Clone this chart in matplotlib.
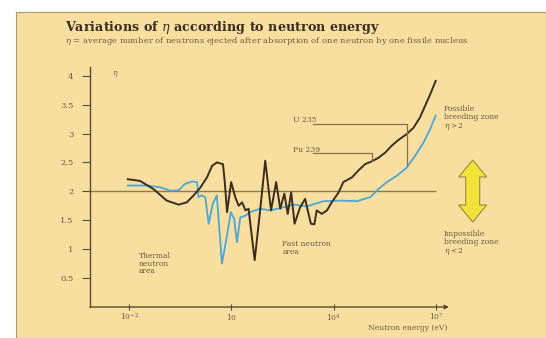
'''
    Variations of eta according to neutron energy
'''
import numpy as np
import matplotlib
matplotlib.use('Agg')
import matplotlib.pyplot as plt
from matplotlib.patches import Rectangle, Polygon

# log10 of neutron energy (eV) and eta
u235_logE = [-2.04, -1.68, -1.29, -0.90, -0.55, -0.31, -0.11, 0.08, 0.28, 0.43,
             0.57, 0.75, 0.80, 0.87, 0.99, 1.11, 1.21, 1.31, 1.41, 1.50,
             1.68, 1.84, 1.99, 2.16, 2.31, 2.43, 2.55, 2.65, 2.75, 2.85,
             3.01, 3.16, 3.26, 3.33, 3.43, 3.50, 3.65, 3.80, 3.94, 4.14,
             4.28, 4.53, 4.72, 4.92, 5.12, 5.31, 5.51, 5.70, 5.90, 6.14,
             6.34, 6.53, 6.68, 6.83, 6.99]
u235_eta = [2.21, 2.18, 2.04, 1.84, 1.77, 1.81, 1.93, 2.06, 2.24, 2.44,
            2.50, 2.47, 2.18, 1.64, 2.16, 1.90, 1.75, 1.81, 1.67, 1.70,
            0.81, 1.67, 2.53, 1.67, 2.16, 1.70, 1.96, 1.61, 1.98, 1.44,
            1.72, 1.87, 1.61, 1.44, 1.43, 1.67, 1.61, 1.67, 1.81, 1.98,
            2.16, 2.24, 2.36, 2.47, 2.52, 2.58, 2.67, 2.79, 2.89, 2.99,
            3.10, 3.28, 3.48, 3.68, 3.91]

pu239_logE = [-2.04, -1.48, -1.09, -0.79, -0.55, -0.36, -0.16, -0.01, 0.03, 0.13,
              0.23, 0.33, 0.45, 0.57, 0.72, 0.87, 0.98, 1.08, 1.16, 1.26,
              1.41, 1.55, 1.84, 2.13, 2.43, 2.82, 3.21, 3.70, 4.19, 4.68,
              5.07, 5.31, 5.56, 5.85, 6.14, 6.39, 6.63, 6.83, 6.99]
pu239_eta = [2.10, 2.10, 2.07, 2.01, 2.02, 2.13, 2.17, 2.16, 1.90, 1.93,
             1.90, 1.44, 1.78, 1.93, 0.75, 1.24, 1.64, 1.52, 1.12, 1.55,
             1.58, 1.64, 1.70, 1.67, 1.71, 1.77, 1.74, 1.83, 1.84, 1.83,
             1.90, 2.04, 2.16, 2.27, 2.41, 2.62, 2.84, 3.08, 3.31]

xticks = [1e-2, 1e1, 1e4, 1e7]
xticklabels = ['$10^{-2}$', '$10$', '$10^{4}$', '$10^{7}$']
yticks = [0.5, 1, 1.5, 2, 2.5, 3, 3.5, 4]
yticklabels = ['0.5', '1', '1.5', '2', '2.5', '3', '3.5', '4']

beige = '#f8dfa0'
dark = '#3b2c1c'
blue = '#4aa8d8'
ink = '#6b5a3c'

plt.rcParams['font.family'] = 'DejaVu Serif'
plt.rcParams['mathtext.fontset'] = 'dejavuserif'

W, H = 546, 338
fig = plt.figure(figsize=(W / 100, H / 100), dpi=100)
fig.patch.set_facecolor('white')
fig.add_artist(Rectangle((16 / W, 0), 1 - 16 / W, 1 - 12 / H, transform=fig.transFigure,
                         facecolor=beige, edgecolor='#a89878', lw=0.8, zorder=-10))

ax = fig.add_axes([90 / W, 31 / H, (449 - 90) / W, (307 - 67) / H])
ax.set_facecolor('none')
ax.set_xscale('log')
ax.set_xlim(10 ** -3.15, 10 ** 7.38)
ax.set_ylim(0, 4.15)

# eta = 2 reference line
ax.hlines(2, 10 ** -3.15, 1e7, color='#8a7a55', lw=1.0)

ax.plot(10 ** np.array(pu239_logE), pu239_eta, color=blue, lw=1.3)
ax.plot(10 ** np.array(u235_logE), u235_eta, color=dark, lw=1.4)

# leader lines to labels
lead = '#8a7045'
ax.plot(10 ** np.array([3.40, 6.15, 6.15]), [3.17, 3.17, 2.46], color=lead, lw=0.9)
ax.plot(10 ** np.array([3.40, 5.12, 5.12]), [2.67, 2.67, 2.52], color=lead, lw=0.9)
ax.text(10 ** 2.81, 3.24, 'U 235', fontsize=5.5, color=ink, va='center')
ax.text(10 ** 2.81, 2.72, 'Pu 239', fontsize=5.5, color=ink, va='center')

ax.text(10 ** -1.71, 0.95, 'Thermal\nneutron\narea', fontsize=5.5, color=ink,
        va='top', linespacing=0.95)
ax.text(10 ** 2.49, 1.15, 'Fast neutron\narea', fontsize=5.5, color=ink,
        va='top', linespacing=0.95)

# axes styling
for s in ['top', 'right', 'bottom']:
    ax.spines[s].set_visible(False)
ax.spines['left'].set_color('#5a4a30')
ax.spines['left'].set_linewidth(1.0)
ax.annotate('', xy=(1, 0), xytext=(0, 0), xycoords='axes fraction',
            arrowprops=dict(arrowstyle='-|>', color='#5a4a30', lw=1.0,
                            mutation_scale=6, shrinkA=0, shrinkB=0))

ax.set_xticks(xticks)
ax.set_xticklabels(xticklabels)
ax.minorticks_off()
ax.set_yticks(yticks)
ax.set_yticklabels(yticklabels)
ax.tick_params(axis='y', direction='out', length=6, width=0.8, color='#5a4a30',
               labelsize=6, labelcolor=ink, pad=6)
ax.tick_params(axis='x', direction='inout', length=4, width=0.8, color='#5a4a30',
               labelsize=5.5, labelcolor=ink, pad=1.5)

ax.text(0.06, 0.97, r'$\eta$', transform=ax.transAxes, fontsize=5.5, color=ink, va='center')

fig.text(447 / W, 1 - 328 / H, 'Neutron energy (eV)', fontsize=5.5, color=ink,
         ha='right', va='center')

# title and subtitle
fig.text(65 / W, 1 - 28 / H, r'Variations of $\eta$ according to neutron energy',
         fontsize=9.2, fontweight='bold', color='#3a2e20', va='center')
fig.text(65 / W, 1 - 41 / H,
         r'$\eta$ = average number of neutrons ejected after absorption of one neutron by one fissile nucleus',
         fontsize=6.0, color=ink, va='center')

# zone notes
fig.text(444 / W, 1 - 105 / H, 'Possible\nbreeding zone\n' + r'$\eta > 2$', fontsize=5.5,
         color=ink, va='top', linespacing=1.0)
fig.text(444 / W, 1 - 230 / H, 'Impossible\nbreeding zone\n' + r'$\eta < 2$', fontsize=5.5,
         color=ink, va='top', linespacing=1.0)

# yellow double arrow
cx, top, bot = 472.7, 160, 222
hw, sw, hh = 14, 7, 17
pts = [(cx, top), (cx + hw, top + hh), (cx + sw, top + hh), (cx + sw, bot - hh),
       (cx + hw, bot - hh), (cx, bot), (cx - hw, bot - hh), (cx - sw, bot - hh),
       (cx - sw, top + hh), (cx - hw, top + hh)]
pts = [(x / W, 1 - y / H) for x, y in pts]
fig.add_artist(Polygon(pts, closed=True, transform=fig.transFigure,
                       facecolor='#f3e23a', edgecolor='#9a8a3a', lw=0.8))

fig.savefig('out.png', dpi=100)
